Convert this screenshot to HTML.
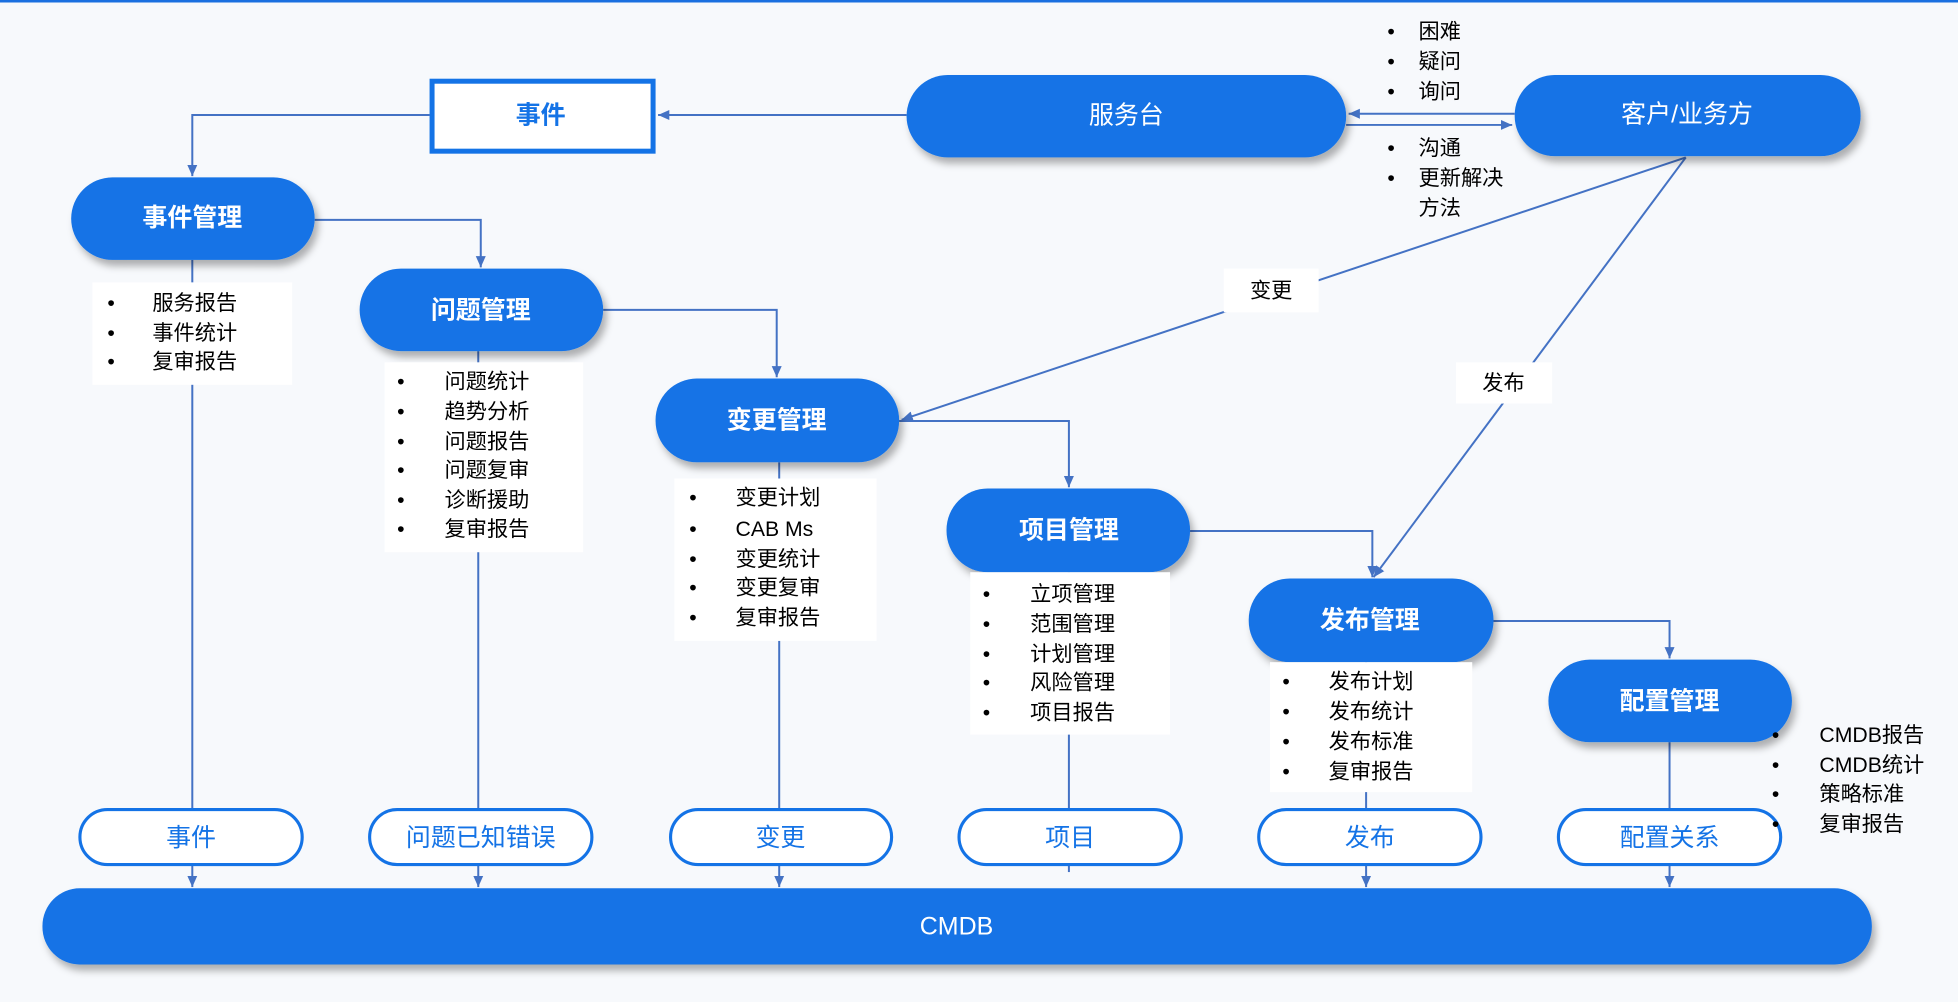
<!DOCTYPE html>
<html><head><meta charset="utf-8"><style>
html,body{margin:0;padding:0;background:#f7f9fc;}
svg{display:block;}
text{font-family:"Liberation Sans","Noto Sans CJK SC",sans-serif;}
</style></head><body>
<svg width="1958" height="1002" viewBox="0 0 1568 802" preserveAspectRatio="none" xmlns="http://www.w3.org/2000/svg">
<defs>
<filter id="sh" x="-10%" y="-20%" width="125%" height="150%"><feDropShadow dx="3" dy="5" stdDeviation="3" flood-color="#000" flood-opacity="0.3"/></filter>
<marker id="ar" markerWidth="10" markerHeight="10" refX="9" refY="5" orient="auto" markerUnits="userSpaceOnUse"><path d="M0,1 L9,5 L0,9 z" fill="#4472c4"/></marker>
</defs>
<rect width="1568" height="802" fill="#f7f9fc"/>
<rect width="1568" height="2" fill="#1a6fe0"/>
<g stroke="#4472c4" stroke-width="1.6" fill="none">
<path d="M726,92 L527,92" marker-end="url(#ar)"/>
<path d="M344,92 L154,92 L154,141" marker-end="url(#ar)"/>
<path d="M1213,91 L1080,91" marker-end="url(#ar)"/>
<path d="M1078,100 L1211,100" marker-end="url(#ar)"/>
<path d="M252,176 L385,176 L385,214" marker-end="url(#ar)"/>
<path d="M483,248 L622,248 L622,302" marker-end="url(#ar)"/>
<path d="M720,337 L856,337 L856,390" marker-end="url(#ar)"/>
<path d="M953,425 L1099,425 L1099,462" marker-end="url(#ar)"/>
<path d="M1196,497 L1337,497 L1337,527" marker-end="url(#ar)"/>
<path d="M1350,126 L722,336" marker-end="url(#ar)"/>
<path d="M1350,126 L1100,462" marker-end="url(#ar)"/>
<path d="M154,208 L154,648 M383,281 L383,648 M624,370 L624,648 M856,458 L856,648 M1094,530 L1094,648 M1337,594 L1337,648"/>
<path d="M154,692 L154,710" marker-end="url(#ar)"/>
<path d="M383,692 L383,710" marker-end="url(#ar)"/>
<path d="M624,692 L624,710" marker-end="url(#ar)"/>
<path d="M856,692 L856,698"/>
<path d="M1094,692 L1094,710" marker-end="url(#ar)"/>
<path d="M1337,692 L1337,710" marker-end="url(#ar)"/>
</g>
<!-- label boxes -->
<rect x="980" y="215" width="76" height="35" fill="#fff"/>
<text x="1018" y="238" font-size="17" text-anchor="middle">变更</text>
<rect x="1166" y="290" width="77" height="33" fill="#fff"/>
<text x="1204" y="312" font-size="17" text-anchor="middle">发布</text>
<!-- 事件 box -->
<rect x="346" y="65" width="177" height="56" fill="#fff" stroke="#1473e6" stroke-width="4"/>
<text x="433" y="99" font-size="20" font-weight="bold" fill="#1473e6" text-anchor="middle">事件</text>
<!-- pills -->
<g fill="#1473e6" filter="url(#sh)">
<rect x="726" y="60" width="352" height="66" rx="33"/>
<rect x="1213" y="60" width="277" height="65" rx="32"/>
<rect x="57" y="142" width="195" height="66" rx="33"/>
<rect x="288" y="215" width="195" height="66" rx="33"/>
<rect x="525" y="303" width="195" height="67" rx="33"/>
<rect x="758" y="391" width="195" height="67" rx="33"/>
<rect x="1000" y="463" width="196" height="67" rx="33"/>
<rect x="1240" y="528" width="195" height="66" rx="33"/>
<rect x="34" y="711" width="1465" height="61" rx="30"/>
</g>
<g fill="#fff" font-size="20" text-anchor="middle" font-weight="bold">
<text x="902" y="99" font-weight="normal">服务台</text>
<text x="1351" y="98" font-weight="normal">客户/业务方</text>
<text x="154" y="181">事件管理</text>
<text x="385" y="255">问题管理</text>
<text x="622" y="343">变更管理</text>
<text x="856" y="431">项目管理</text>
<text x="1097" y="503">发布管理</text>
<text x="1337" y="568">配置管理</text>
<text x="766" y="748" font-weight="normal">CMDB</text>
</g>
<!-- bottom pills -->
<g fill="#fff" stroke="#1473e6" stroke-width="2.5">
<rect x="64" y="648" width="178" height="44" rx="22"/>
<rect x="296" y="648" width="178" height="44" rx="22"/>
<rect x="537" y="648" width="177" height="44" rx="22"/>
<rect x="768" y="648" width="178" height="44" rx="22"/>
<rect x="1008" y="648" width="178" height="44" rx="22"/>
<rect x="1248" y="648" width="178" height="44" rx="22"/>
</g>
<g fill="#1473e6" font-size="20" text-anchor="middle">
<text x="153" y="677">事件</text>
<text x="385" y="677">问题已知错误</text>
<text x="625" y="677">变更</text>
<text x="857" y="677">项目</text>
<text x="1097" y="677">发布</text>
<text x="1337" y="677">配置关系</text>
</g>
<!-- bullet boxes -->
<g fill="#fff">
<rect x="74" y="226" width="160" height="82"/>
<rect x="308" y="290" width="159" height="152"/>
<rect x="540" y="383" width="162" height="130"/>
<rect x="777" y="458" width="160" height="130"/>
<rect x="1017" y="530" width="162" height="104"/>
</g>
<g font-size="17" fill="#000">
<text x="86" y="248">•</text><text x="122" y="248">服务报告</text>
<text x="86" y="272">•</text><text x="122" y="272">事件统计</text>
<text x="86" y="295">•</text><text x="122" y="295">复审报告</text>

<text x="318" y="311">•</text><text x="356" y="311">问题统计</text>
<text x="318" y="335">•</text><text x="356" y="335">趋势分析</text>
<text x="318" y="359">•</text><text x="356" y="359">问题报告</text>
<text x="318" y="382">•</text><text x="356" y="382">问题复审</text>
<text x="318" y="406">•</text><text x="356" y="406">诊断援助</text>
<text x="318" y="429">•</text><text x="356" y="429">复审报告</text>

<text x="552" y="404">•</text><text x="589" y="404">变更计划</text>
<text x="552" y="429">•</text><text x="589" y="429">CAB Ms</text>
<text x="552" y="453">•</text><text x="589" y="453">变更统计</text>
<text x="552" y="476">•</text><text x="589" y="476">变更复审</text>
<text x="552" y="500">•</text><text x="589" y="500">复审报告</text>

<text x="787" y="481">•</text><text x="825" y="481">立项管理</text>
<text x="787" y="505">•</text><text x="825" y="505">范围管理</text>
<text x="787" y="529">•</text><text x="825" y="529">计划管理</text>
<text x="787" y="552">•</text><text x="825" y="552">风险管理</text>
<text x="787" y="576">•</text><text x="825" y="576">项目报告</text>

<text x="1027" y="551">•</text><text x="1064" y="551">发布计划</text>
<text x="1027" y="575">•</text><text x="1064" y="575">发布统计</text>
<text x="1027" y="599">•</text><text x="1064" y="599">发布标准</text>
<text x="1027" y="623">•</text><text x="1064" y="623">复审报告</text>

<text x="1419" y="594">•</text><text x="1457" y="594">CMDB报告</text>
<text x="1419" y="618">•</text><text x="1457" y="618">CMDB统计</text>
<text x="1419" y="641">•</text><text x="1457" y="641">策略标准</text>
<text x="1419" y="665">•</text><text x="1457" y="665">复审报告</text>

<text x="1111" y="31">•</text><text x="1136" y="31">困难</text>
<text x="1111" y="55">•</text><text x="1136" y="55">疑问</text>
<text x="1111" y="79">•</text><text x="1136" y="79">询问</text>
<text x="1111" y="124">•</text><text x="1136" y="124">沟通</text>
<text x="1111" y="148">•</text><text x="1136" y="148">更新解决</text>
<text x="1136" y="172">方法</text>
</g>
</svg>
</body></html>
